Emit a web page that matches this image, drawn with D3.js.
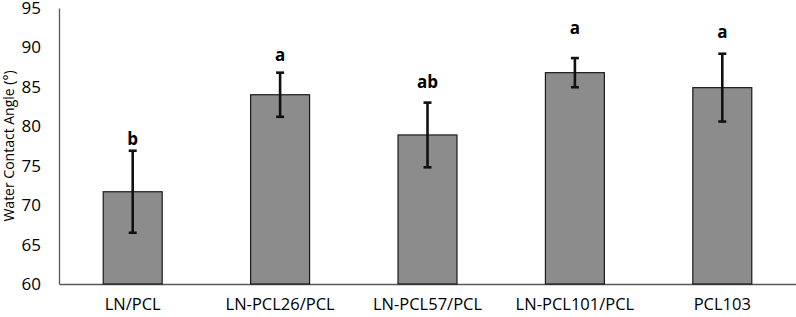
<!DOCTYPE html>
<html>
<head>
<meta charset="utf-8">
<script src="https://cdn.jsdelivr.net/npm/d3@7"></script>
<style>
  body { margin: 0; background: #fff; }
  svg text { font-family: "Open Sans", "Liberation Sans", sans-serif; fill: #000; }
</style>
</head>
<body>
<div id="chart"></div>
<script>
const categories = ['LN/PCL', 'LN-PCL26/PCL', 'LN-PCL57/PCL', 'LN-PCL101/PCL', 'PCL103'];
const means = [71.7, 84.0, 78.9, 86.8, 84.9];
const sds = [5.2, 2.8, 4.1, 1.85, 4.3];
const letters = ['b', 'a', 'ab', 'a', 'a'];
const letterAt = [77.6, 88.3, 84.8, 91.7, 91.2];
const yTicks = [60, 65, 70, 75, 80, 85, 90, 95];

const width = 796, height = 317;

const svg = d3.select('#chart')
  .append('svg')
  .attr('width', width)
  .attr('height', height);

const x = d3.scaleBand()
  .domain(categories)
  .range([59, 796])
  .paddingInner(0.6)
  .paddingOuter(0.3);

const y = d3.scaleLinear()
  .domain([60, 95])
  .range([284, 8]);

// y axis: line and labels only, no tick marks
const yAxis = svg.append('g')
  .attr('transform', 'translate(59,0)')
  .call(d3.axisLeft(y).tickValues(yTicks).tickSize(0).tickPadding(18));
yAxis.select('.domain').attr('stroke', '#595959').attr('stroke-width', 1.3);
yAxis.selectAll('text')
  .style('font-size', '17px')
  .attr('fill', '#000');

const xAxis = svg.append('g')
  .attr('transform', 'translate(0,284)')
  .call(d3.axisBottom(x).tickSize(0).tickPadding(14));
xAxis.select('.domain').attr('stroke', '#595959').attr('stroke-width', 1.3);
xAxis.selectAll('text')
  .style('font-size', '16.5px')
  .attr('fill', '#000');

svg.append('text')
  .attr('transform', `translate(14,${(y(60) + y(95)) / 2}) rotate(-90)`)
  .attr('text-anchor', 'middle')
  .style('font-size', '14px')
  .text('Water Contact Angle (°)');

const bars = svg.append('g');
bars.selectAll('rect')
  .data(categories)
  .join('rect')
  .attr('x', d => x(d))
  .attr('y', (d, i) => y(means[i]))
  .attr('width', x.bandwidth())
  .attr('height', (d, i) => y(60) - y(means[i]))
  .attr('fill', '#8c8c8c')
  .attr('stroke', '#1a1a1a')
  .attr('stroke-width', 1.2);

const err = svg.append('g')
  .attr('stroke', '#111')
  .attr('stroke-width', 2.6);

categories.forEach((c, i) => {
  const cx = x(c) + x.bandwidth() / 2;
  const lo = y(means[i] - sds[i]);
  const hi = y(means[i] + sds[i]);
  err.append('line').attr('x1', cx).attr('x2', cx).attr('y1', lo).attr('y2', hi);
  err.append('line').attr('x1', cx - 4).attr('x2', cx + 4).attr('y1', lo).attr('y2', lo);
  err.append('line').attr('x1', cx - 4).attr('x2', cx + 4).attr('y1', hi).attr('y2', hi);
});

svg.append('g').selectAll('text')
  .data(categories)
  .join('text')
  .attr('x', d => x(d) + x.bandwidth() / 2)
  .attr('y', (d, i) => y(letterAt[i]))
  .attr('text-anchor', 'middle')
  .style('font-size', '17px')
  .style('font-weight', 'bold')
  .text((d, i) => letters[i]);
</script>
</body>
</html>
